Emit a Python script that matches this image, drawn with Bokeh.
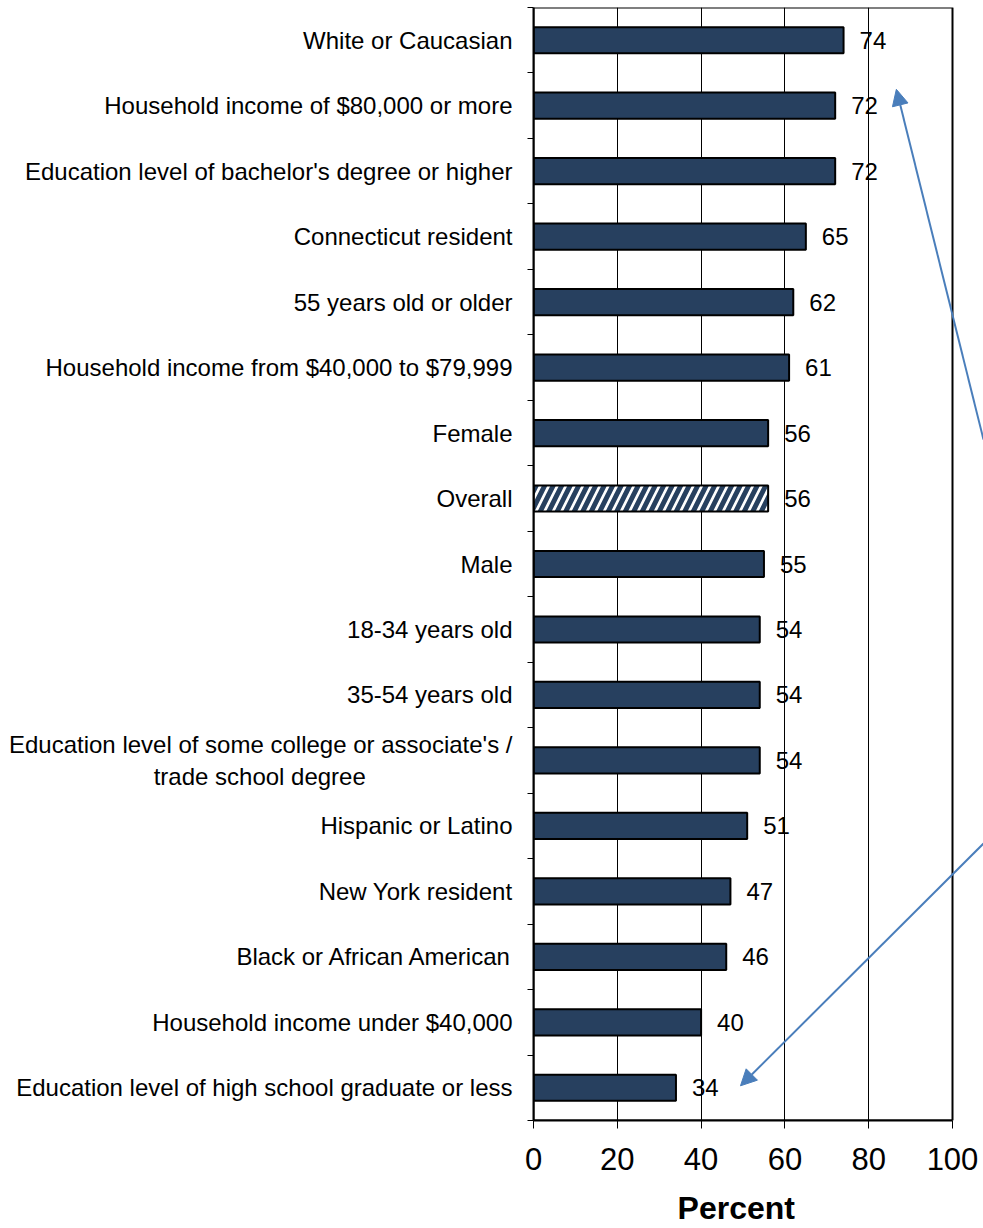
from bokeh.plotting import figure
from bokeh.models import Range1d, FixedTicker, ColumnDataSource, Arrow, NormalHead, BoxAnnotation
from bokeh.embed import file_html
from bokeh.resources import INLINE
from bokeh.core.properties import value

categories = [
    "White or Caucasian",
    "Household income of $80,000 or more",
    "Education level of bachelor's degree or higher",
    "Connecticut resident",
    "55 years old or older",
    "Household income from $40,000 to $79,999",
    "Female",
    "Overall",
    "Male",
    "18-34 years old",
    "35-54 years old",
    "Education level of some college or associate's /\ntrade school degree" + "\u00a0" * 22,
    "Hispanic or Latino",
    "New York resident",
    "Black or African American",
    "Household income under $40,000",
    "Education level of high school graduate or less",
]
percent = [74, 72, 72, 65, 62, 61, 56, 56, 55, 54, 54, 54, 51, 47, 46, 40, 34]
is_overall = [c == "Overall" for c in categories]
x_ticks = [0, 20, 40, 60, 80, 100]
grid_ticks = [20, 40, 60, 80]

FONT = "Liberation Sans"
NAVY = "#27405F"
BLUE = "#4A7EBB"

n = len(categories)
ypos = [i + 0.5 for i in range(n)]
X_MAX = 100 * 450 / 419  # frame extends to the page edge; axis box stops at 100

p = figure(width=983, height=1228, output_backend="svg", toolbar_location=None,
           x_range=Range1d(0, X_MAX), y_range=Range1d(n, 0),
           min_border_left=533, min_border_right=0, min_border_top=7,
           min_border_bottom=108)

p.outline_line_color = None
p.background_fill_color = "white"
p.border_fill_color = "white"

solid = ColumnDataSource(dict(
    y=[y for y, o in zip(ypos, is_overall) if not o],
    v=[v for v, o in zip(percent, is_overall) if not o]))
hatch = ColumnDataSource(dict(
    y=[y for y, o in zip(ypos, is_overall) if o],
    v=[v for v, o in zip(percent, is_overall) if o]))

p.xgrid.ticker = FixedTicker(ticks=grid_ticks)
p.xgrid.grid_line_color = "black"
p.xgrid.grid_line_width = 1
p.ygrid.grid_line_color = None

p.hbar(y="y", right="v", left=0, height=0.4, source=solid,
       fill_color=NAVY, line_color="black", line_width=2)
p.hbar(y="y", right="v", left=0, height=0.4, source=hatch,
       fill_color="white", line_color="black", line_width=2,
       hatch_pattern="/", hatch_color=NAVY, hatch_scale=17, hatch_weight=5)

labels = ColumnDataSource(dict(x=percent, y=ypos, t=[str(v) for v in percent]))
p.text(x="x", y="y", text="t", source=labels, x_offset=16,
       text_baseline="middle", text_align="left",
       text_font=value(FONT), text_font_size="24px", text_color="black")

# plot box (0..100)
p.add_layout(BoxAnnotation(left=0, right=100, top=0, bottom=n,
                           fill_alpha=0, line_color="black", line_alpha=1,
                           line_width=2))

# axes
p.xaxis.ticker = FixedTicker(ticks=x_ticks)
p.xaxis.bounds = (0, 100)
p.xaxis.major_label_text_font = FONT
p.xaxis.major_label_text_font_size = "31px"
p.xaxis.major_label_text_color = "black"
p.xaxis.major_label_text_line_height = 1.0
p.xaxis.major_tick_out = 8
p.xaxis.major_tick_in = 0
p.xaxis.minor_tick_line_color = None
p.xaxis.axis_line_width = 2
p.xaxis.major_label_standoff = 19
p.xaxis.axis_label = "Percent" + "\u00a0" * 5
p.xaxis.axis_label_text_font = FONT
p.xaxis.axis_label_text_font_style = "bold"
p.xaxis.axis_label_text_font_size = "32px"
p.xaxis.axis_label_text_color = "black"
p.xaxis.axis_label_text_line_height = 1.0
p.xaxis.axis_label_standoff = 17

p.yaxis.ticker = FixedTicker(ticks=ypos, minor_ticks=list(range(n + 1)))
p.yaxis.major_label_overrides = {y: c for y, c in zip(ypos, categories)}
p.yaxis.major_label_text_font = FONT
p.yaxis.major_label_text_font_size = "24px"
p.yaxis.major_label_text_color = "black"
p.yaxis.major_tick_line_color = None
p.yaxis.major_tick_out = 0
p.yaxis.major_tick_in = 0
p.yaxis.minor_tick_out = 6
p.yaxis.minor_tick_in = 0
p.yaxis.minor_tick_line_width = 1
p.yaxis.axis_line_width = 2
p.yaxis.major_label_standoff = 15

# annotation arrows
p.add_layout(Arrow(end=NormalHead(size=16, fill_color=BLUE, line_color=BLUE),
                   x_start=107.4, y_start=6.6, x_end=86.6, y_end=1.25,
                   line_color=BLUE, line_width=2))
p.add_layout(Arrow(end=NormalHead(size=16, fill_color=BLUE, line_color=BLUE),
                   x_start=107.4, y_start=12.77, x_end=49.4, y_end=16.47,
                   line_color=BLUE, line_width=2))

open("out.html", "w").write(file_html(p, INLINE))
